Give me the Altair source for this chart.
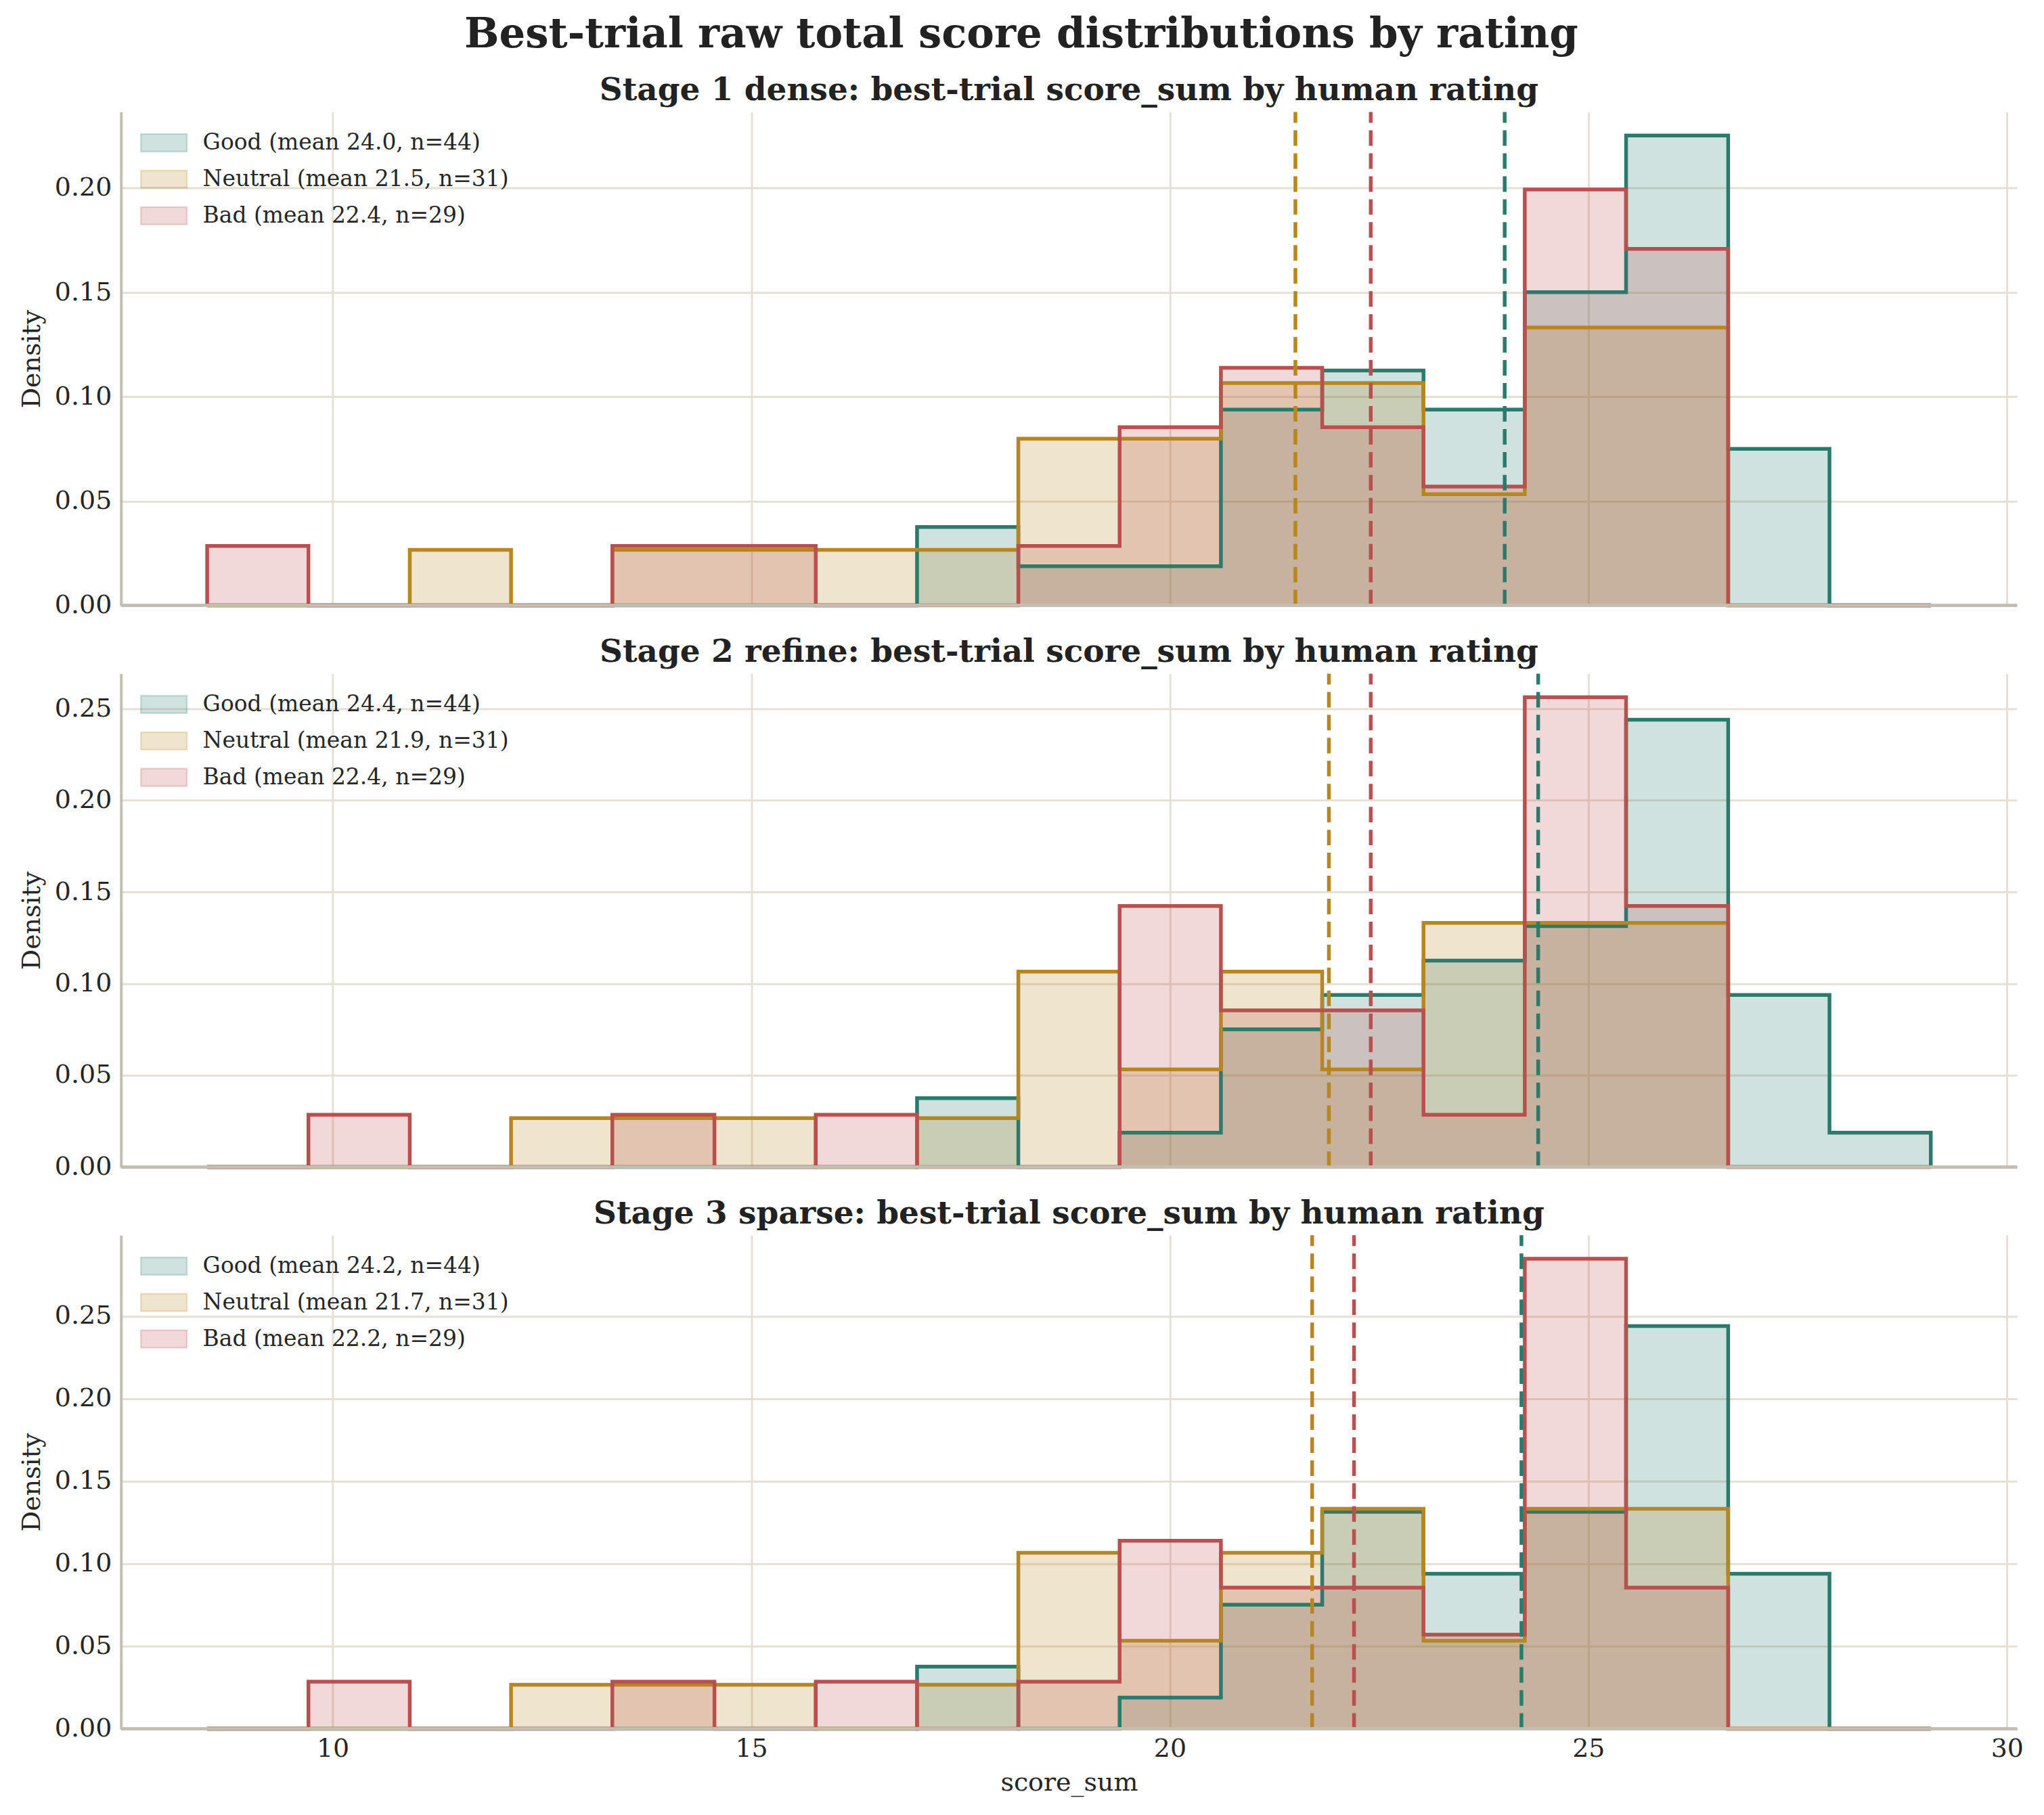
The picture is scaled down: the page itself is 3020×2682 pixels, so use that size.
import altair as alt
import pandas as pd

# Histogram bin edges shared by every stage (17 equal-width bins)
BIN_EDGES = [8.50, 9.71, 10.92, 12.13, 13.34, 14.56, 15.77, 16.98, 18.19, 19.40,
             20.61, 21.82, 23.03, 24.24, 25.45, 26.67, 27.88, 29.09]

RATINGS = ["Good", "Neutral", "Bad"]
COLORS = ["#2a7b6c", "#b8861e", "#b9504f"]
# Translucent versions of the same colours for the filled histograms
FILLS = ["rgba(42,123,108,0.22)", "rgba(184,134,30,0.22)", "rgba(185,80,79,0.22)"]

STAGE_TITLES = [
    "Stage 1 dense: best-trial score_sum by human rating",
    "Stage 2 refine: best-trial score_sum by human rating",
    "Stage 3 sparse: best-trial score_sum by human rating",
]

# Per-bin counts of best-trial score_sum, one list per rating
stage1_good = [0, 0, 0, 0, 0, 0, 0, 2, 1, 1, 5, 6, 5, 8, 12, 4, 0]
stage1_neutral = [0, 0, 1, 0, 1, 1, 1, 1, 3, 3, 4, 4, 2, 5, 5, 0, 0]
stage1_bad = [1, 0, 0, 0, 1, 1, 0, 0, 1, 3, 4, 3, 2, 7, 6, 0, 0]

stage2_good = [0, 0, 0, 0, 0, 0, 0, 2, 0, 1, 4, 5, 6, 7, 13, 5, 1]
stage2_neutral = [0, 0, 0, 1, 1, 1, 0, 1, 4, 2, 4, 2, 5, 5, 5, 0, 0]
stage2_bad = [0, 1, 0, 0, 1, 0, 1, 0, 0, 5, 3, 3, 1, 9, 5, 0, 0]

stage3_good = [0, 0, 0, 0, 0, 0, 0, 2, 0, 1, 4, 7, 5, 7, 13, 5, 0]
stage3_neutral = [0, 0, 0, 1, 1, 1, 0, 1, 4, 2, 4, 5, 2, 5, 5, 0, 0]
stage3_bad = [0, 1, 0, 0, 1, 0, 1, 0, 1, 4, 3, 3, 2, 10, 3, 0, 0]

# Mean score_sum per rating and stage
stage1_means = [24.0, 21.5, 22.4]
stage2_means = [24.4, 21.9, 22.4]
stage3_means = [24.2, 21.7, 22.2]

STAGES = [
    ([stage1_good, stage1_neutral, stage1_bad], stage1_means),
    ([stage2_good, stage2_neutral, stage2_bad], stage2_means),
    ([stage3_good, stage3_neutral, stage3_bad], stage3_means),
]

X_TICKS = [10, 15, 20, 25, 30]
Y_TICKS = [0.0, 0.05, 0.10, 0.15, 0.20, 0.25]

FONT = "DejaVu Serif"
TEXT = "#262626"
GRID = "#e6dfd4"
SPINE = "#c4bdb2"

PLOT_W, PLOT_H = 2805, 730

n_bins = len(BIN_EDGES) - 1
bin_w = (BIN_EDGES[-1] - BIN_EDGES[0]) / n_bins
span = BIN_EDGES[-1] - BIN_EDGES[0]
x_domain = [BIN_EDGES[0] - 0.05 * span, BIN_EDGES[-1] + 0.05 * span]


def stage_panel(idx, bottom):
    counts_list, means = STAGES[idx]
    step_rows, mean_rows, labels = [], [], []
    peak = 0.0
    for rating, counts, mean in zip(RATINGS, counts_list, means):
        n = sum(counts)
        label = f"{rating} (mean {mean:.1f}, n={n})"
        labels.append(label)
        dens = [c / (n * bin_w) for c in counts]
        peak = max(peak, max(dens))
        xs = [BIN_EDGES[0]] + BIN_EDGES
        ys = [0.0] + dens + [0.0]
        for i, (xv, yv) in enumerate(zip(xs, ys)):
            step_rows.append({"label": label, "i": i, "x": xv, "density": yv})
        mean_rows.append({"label": label, "mean": mean})

    steps = pd.DataFrame(step_rows)
    fills = steps[steps["i"] > 0]
    means_df = pd.DataFrame(mean_rows)
    y_max = peak * 1.05

    xscale = alt.Scale(domain=x_domain, nice=False, zero=False)
    yscale = alt.Scale(domain=[0, y_max], nice=False)
    if bottom:
        xaxis = alt.Axis(values=X_TICKS, format="d", title="score_sum",
                         labelPadding=11, titlePadding=12)
    else:
        xaxis = alt.Axis(values=X_TICKS, labels=False, title=None)
    yaxis = alt.Axis(values=[t for t in Y_TICKS if t <= y_max], format=".2f",
                     title="Density", titlePadding=14)

    legend = alt.Legend(
        orient="none", legendX=28, legendY=10, title=None, padding=0,
        symbolType="M-1,-0.38L1,-0.38L1,0.38L-1,0.38Z", symbolSize=4624,
        symbolStrokeWidth=2.5,
        labelFont=FONT, labelFontSize=33, labelColor=TEXT, labelLimit=1200,
        labelOffset=22, rowPadding=-20,
    )

    area = alt.Chart(fills).mark_area(interpolate="step-after", strokeWidth=2.5).encode(
        x=alt.X("x:Q", scale=xscale, axis=xaxis),
        y=alt.Y("density:Q", scale=yscale, axis=yaxis, stack=None),
        fill=alt.Fill("label:N", scale=alt.Scale(domain=labels, range=FILLS),
                      legend=legend),
        stroke=alt.Stroke("label:N", scale=alt.Scale(domain=labels, range=FILLS),
                          legend=legend),
    )
    outline = alt.Chart(steps).mark_line(
        interpolate="step-after", strokeWidth=5.5, strokeJoin="miter", strokeCap="butt"
    ).encode(
        x="x:Q",
        y=alt.Y("density:Q", stack=None),
        stroke=alt.Stroke("label:N", scale=alt.Scale(domain=labels, range=COLORS),
                          legend=None),
        order=alt.Order("i:Q"),
    )
    mean_lines = alt.Chart(means_df).mark_rule(
        strokeWidth=5.5, strokeDash=[23, 11]
    ).encode(
        x="mean:Q",
        y=alt.datum(0),
        y2=alt.datum(y_max),
        stroke=alt.Stroke("label:N", scale=alt.Scale(domain=labels, range=COLORS),
                          legend=None),
    )
    baseline = alt.Chart(means_df).mark_rule(color=SPINE, strokeWidth=4).encode(
        y=alt.datum(0)
    )

    return alt.layer(area, outline, mean_lines, baseline).properties(
        width=PLOT_W, height=PLOT_H,
        title=alt.TitleParams(
            STAGE_TITLES[idx], font=FONT, fontSize=47, fontWeight="bold",
            color="#222222", anchor="middle", frame="group",
            baseline="alphabetic", offset=-32,
        ),
    ).resolve_scale(fill="independent", stroke="independent")


chart = alt.vconcat(
    stage_panel(0, False), stage_panel(1, False), stage_panel(2, True), spacing=26
).resolve_scale(
    y="independent", fill="independent", stroke="independent"
).resolve_legend(fill="independent", stroke="independent").properties(
    title=alt.TitleParams(
        "Best-trial raw total score distributions by rating",
        font=FONT, fontSize=61, fontWeight="bold", color="#222222",
        anchor="middle", baseline="alphabetic", offset=-21,
    ),
    padding={"left": 28, "top": 19, "right": 30, "bottom": 10},
).configure_view(stroke=None).configure_axis(
    labelFont=FONT, labelFontSize=38, labelColor=TEXT,
    titleFont=FONT, titleFontSize=38, titleFontWeight="normal", titleColor=TEXT,
    gridColor=GRID, gridWidth=3, domainColor=SPINE, domainWidth=4,
    ticks=False, tickSize=0, labelPadding=14,
).configure_concat(spacing=26)

chart.save("out.html", embed_options={"renderer": "svg", "actions": False})
